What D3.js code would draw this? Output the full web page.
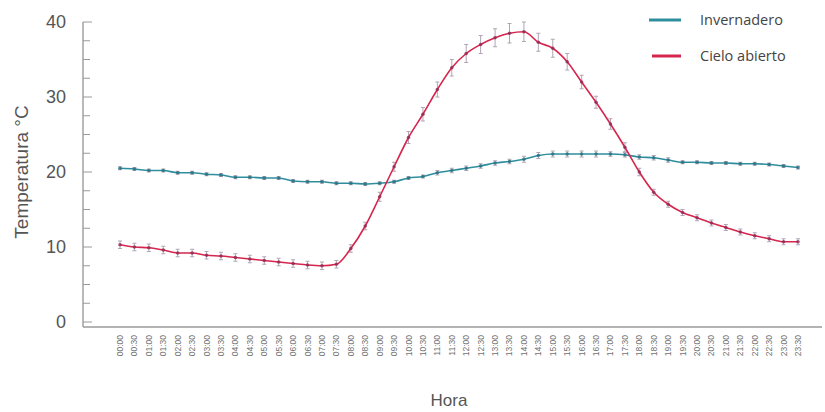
<!DOCTYPE html>
<html>
<head>
<meta charset="utf-8">
<script src="https://cdn.jsdelivr.net/npm/d3@7"></script>
<style>
  body { margin: 0; background: #fff; }
  svg { display: block; font-family: "Liberation Sans", Arial, sans-serif; }
</style>
</head>
<body>
<script>
// half-hour labels, 00:00 .. 23:30
var horas = ["00:00","00:30","01:00","01:30","02:00","02:30","03:00","03:30","04:00","04:30",
  "05:00","05:30","06:00","06:30","07:00","07:30","08:00","08:30","09:00","09:30",
  "10:00","10:30","11:00","11:30","12:00","12:30","13:00","13:30","14:00","14:30",
  "15:00","15:30","16:00","16:30","17:00","17:30","18:00","18:30","19:00","19:30",
  "20:00","20:30","21:00","21:30","22:00","22:30","23:00","23:30"];

var invernadero = [20.5,20.4,20.2,20.2,19.9,19.9,19.7,19.6,19.3,19.3,
  19.2,19.2,18.8,18.7,18.7,18.5,18.5,18.4,18.5,18.7,
  19.2,19.4,19.9,20.2,20.5,20.8,21.2,21.4,21.7,22.2,
  22.4,22.4,22.4,22.4,22.4,22.3,22.0,21.9,21.6,21.3,
  21.3,21.2,21.2,21.1,21.1,21.0,20.8,20.6];

var cieloAbierto = [10.3,10.0,9.9,9.6,9.2,9.2,8.9,8.8,8.6,8.4,
  8.2,8.0,7.8,7.6,7.5,7.7,9.8,12.8,16.7,20.7,
  24.6,27.7,31.0,33.9,35.8,37.0,37.9,38.5,38.7,37.3,
  36.5,34.7,32.0,29.3,26.4,23.3,20.0,17.3,15.7,14.6,
  13.9,13.2,12.6,12.0,11.5,11.1,10.7,10.7];

// error bar half widths
var errInv = [0.2,0.2,0.2,0.2,0.2,0.2,0.2,0.2,0.2,0.2,
  0.2,0.2,0.2,0.2,0.2,0.2,0.2,0.2,0.2,0.2,
  0.2,0.2,0.3,0.3,0.3,0.3,0.3,0.3,0.4,0.4,
  0.4,0.4,0.4,0.4,0.3,0.3,0.3,0.3,0.3,0.2,
  0.2,0.2,0.2,0.2,0.2,0.2,0.2,0.2];
var errCielo = [0.5,0.5,0.5,0.5,0.5,0.5,0.5,0.5,0.5,0.5,
  0.5,0.5,0.5,0.5,0.5,0.5,0.5,0.5,0.6,0.6,
  0.8,0.9,1.0,1.1,1.2,1.2,1.2,1.3,1.3,1.2,
  1.2,1.1,0.9,0.8,0.7,0.6,0.5,0.4,0.4,0.4,
  0.4,0.4,0.4,0.4,0.4,0.4,0.4,0.4];

var yTicks = [0, 10, 20, 30, 40];
var series = [
  {name: "Invernadero", values: invernadero, err: errInv, color: "#2e8e9e", dot: "#2a6f80"},
  {name: "Cielo abierto", values: cieloAbierto, err: errCielo, color: "#d6264d", dot: "#8e2a55"}
];

var width = 825, height = 412;

var svg = d3.select("body").append("svg")
    .attr("width", width)
    .attr("height", height);

//scales
var x = d3.scalePoint().domain(horas).range([120, 798]);
var y = d3.scaleLinear().domain([0, 40]).range([322, 22]);

//y axis line
svg.append("line")
    .attr("x1", 83).attr("x2", 83)
    .attr("y1", y(40)).attr("y2", 327)
    .attr("stroke", "#8a8a8a").attr("stroke-width", 1.2);
//x axis line
svg.append("line")
    .attr("x1", 83).attr("x2", 822)
    .attr("y1", 327).attr("y2", 327)
    .attr("stroke", "#9a9a9a").attr("stroke-width", 1.5);

//y ticks, minor every 2.5
var minor = d3.range(0, 40.01, 2.5);
svg.selectAll(".ytick")
    .data(minor)
    .enter().append("line")
    .attr("x1", 83)
    .attr("x2", d => d % 10 === 0 ? 92 : 90)
    .attr("y1", d => y(d)).attr("y2", d => y(d))
    .attr("stroke", "#9a9a9a").attr("stroke-width", 1);

svg.selectAll(".ylab")
    .data(yTicks)
    .enter().append("text")
    .attr("x", 66)
    .attr("y", d => y(d))
    .attr("dy", "0.36em")
    .attr("text-anchor", "end")
    .style("font-size", "18px")
    .attr("fill", "#555")
    .text(d => d);

//x tick labels, rotated
svg.selectAll(".xlab")
    .data(horas)
    .enter().append("text")
    .attr("transform", d => "translate(" + (x(d) + 3) + ",335) rotate(-90)")
    .attr("text-anchor", "end")
    .style("font-size", "8.5px")
    .attr("fill", "#707070")
    .text(d => d);

//axis titles
svg.append("text")
    .attr("transform", "translate(28,172) rotate(-90)")
    .attr("text-anchor", "middle")
    .style("font-size", "19px")
    .attr("fill", "#555")
    .text("Temperatura °C");

svg.append("text")
    .attr("x", 449).attr("y", 406)
    .attr("text-anchor", "middle")
    .style("font-size", "17px")
    .attr("fill", "#555")
    .text("Hora");

var line = d3.line()
    .x((d, i) => x(horas[i]))
    .y(d => y(d))
    .curve(d3.curveMonotoneX);

series.forEach(s => {
  var g = svg.append("g");
  //error bars
  g.selectAll(".eb")
      .data(s.values)
      .enter().append("path")
      .attr("d", (d, i) => {
        var cx = x(horas[i]), e = s.err[i];
        return "M" + cx + "," + y(d - e) + "V" + y(d + e) +
          "M" + (cx - 2) + "," + y(d - e) + "h4" +
          "M" + (cx - 2) + "," + y(d + e) + "h4";
      })
      .attr("stroke", "#b0a4b6").attr("stroke-width", 1).attr("fill", "none");
  g.append("path")
      .datum(s.values)
      .attr("d", line)
      .attr("fill", "none")
      .attr("stroke", s.color)
      .attr("stroke-width", 1.6);
  g.selectAll(".pt")
      .data(s.values)
      .enter().append("circle")
      .attr("cx", (d, i) => x(horas[i]))
      .attr("cy", d => y(d))
      .attr("r", 1.8)
      .attr("fill", s.dot)
      .attr("opacity", 0.8);
});

//legend
var legend = svg.selectAll(".leg")
    .data(series)
    .enter().append("g")
    .attr("transform", (d, i) => "translate(0," + (20 + i * 36) + ")");
legend.append("line")
    .attr("x1", (d, i) => i === 0 ? 649 : 652)
    .attr("x2", 681)
    .attr("y1", 0).attr("y2", 0)
    .attr("stroke", d => d.color)
    .attr("stroke-width", 3);
legend.append("text")
    .attr("x", 700)
    .attr("dy", "0.35em")
    .style("font-size", "14.5px")
    .style("font-family", "'Open Sans', sans-serif")
    .attr("fill", "#444")
    .text(d => d.name);
</script>
</body>
</html>
